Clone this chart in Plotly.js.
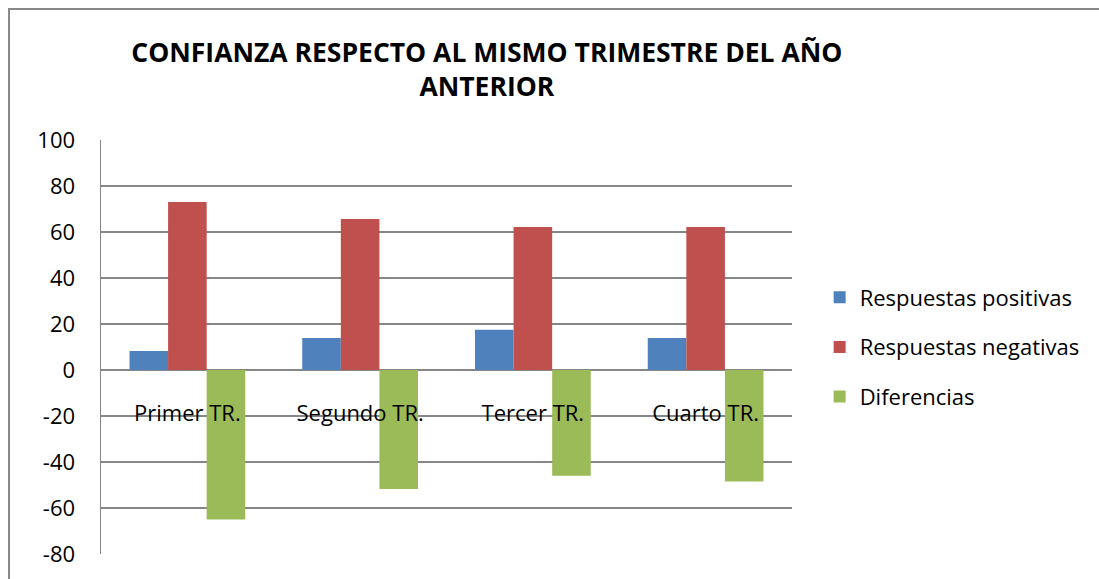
<!DOCTYPE html>
<html>
<head>
<meta charset="utf-8">
<script src="https://cdn.plot.ly/plotly-3.0.1.min.js"></script>
<style>html,body{margin:0;padding:0;background:#fff;}#chart{width:1099px;height:579px;}</style>
</head>
<body>
<div id="chart"></div>
<script>
const categories = ["Primer TR.", "Segundo TR.", "Tercer TR.", "Cuarto TR."];
const positivas = [8.3, 13.9, 17.5, 13.9];
const negativas = [73.0, 65.6, 62.2, 62.2];
const diferencias = [-65.0, -51.7, -46.0, -48.5];
const seriesNames = ["Respuestas positivas", "Respuestas negativas", "Diferencias"];
const seriesColors = ["#4F81BD", "#C0504D", "#9BBB59"];
const yTicks = [-80, -60, -40, -20, 0, 20, 40, 60, 80, 100];
const yTickLabels = ["-80", "-60", "-40", "-20", "0", "20", "40", "60", "80", "100"];

const FONT = "Open Sans, Liberation Sans, sans-serif";
const series = [positivas, negativas, diferencias];
const traces = series.map((vals, i) => ({
  type: "bar",
  x: categories,
  y: vals,
  name: seriesNames[i],
  legendgroup: "g" + i,
  marker: {color: seriesColors[i], line: {width: 0}},
  hoverinfo: "y"
}));

const layout = {
  width: 1099, height: 579,
  margin: {l: 101, r: 307, t: 140, b: 25},
  paper_bgcolor: "#fff", plot_bgcolor: "#fff",
  font: {family: FONT, color: "#000"},
  title: {
    text: "<b>CONFIANZA RESPECTO AL MISMO TRIMESTRE DEL AÑO<br>ANTERIOR</b>",
    x: 0.443, xanchor: "center", y: 0.893, yanchor: "middle",
    font: {family: FONT, size: 26.5, color: "#000"}
  },
  barmode: "group",
  bargap: 0.33, bargroupgap: 0,
  xaxis: {
    type: "category",
    anchor: "free", position: 0.4444,
    showline: false, showgrid: false, zeroline: false,
    ticks: "", ticklabelstandoff: 28,
    tickfont: {family: FONT, size: 22, color: "#000"},
    fixedrange: true
  },
  yaxis: {
    range: [-80, 100],
    tickvals: yTicks, ticktext: yTickLabels,
    showgrid: true, gridcolor: "#868686", gridwidth: 1.5,
    zeroline: true, zerolinecolor: "#868686", zerolinewidth: 1.5,
    showline: true, linecolor: "#868686", linewidth: 1.5,
    ticks: "", ticklabelstandoff: 20,
    tickfont: {family: FONT, size: 22, color: "#000"},
    fixedrange: true
  },
  showlegend: true,
  legend: {
    x: 1.04, xanchor: "left", y: 0.5, yanchor: "middle",
    traceorder: "grouped", tracegroupgap: 18,
    font: {family: FONT, size: 22, color: "#000"},
    itemwidth: 30, bgcolor: "rgba(0,0,0,0)"
  },
  shapes: [{
    type: "rect", xref: "paper", yref: "paper",
    x0: -0.1331, x1: 1.6, y0: -0.09, y1: 1.3164,
    line: {color: "#888888", width: 2}, fillcolor: "rgba(0,0,0,0)", layer: "below"
  }]
};

Plotly.newPlot("chart", traces, layout, {displayModeBar: false, staticPlot: true});
</script>
</body>
</html>
